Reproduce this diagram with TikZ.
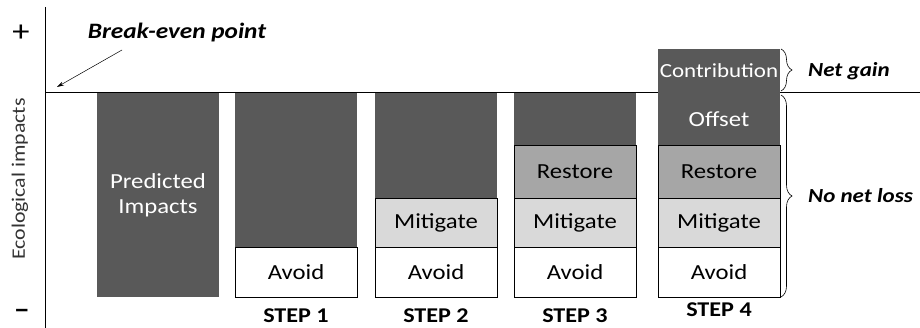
\documentclass[tikz,border=0pt]{standalone}
\usepackage{fontspec}
\setmainfont{Carlito}[FakeStretch=1.15]
\usetikzlibrary{positioning,decorations.pathreplacing,arrows.meta}
\definecolor{impactgray}{RGB}{89,89,89}
\definecolor{restoregray}{RGB}{166,166,166}
\definecolor{mitigategray}{RGB}{217,217,217}

\begin{document}
\begin{tikzpicture}[x=1pt, y=1pt, node distance=0pt,
  bar/.style = {minimum width=122pt, inner sep=0pt, outer sep=0pt, align=center, font=\fontsize{21.5}{25}\selectfont},
  impact/.style = {bar, fill=impactgray, text=white},
  framed/.style = {bar, draw=black, line width=0.8pt},
  avoidbox/.style = {framed, fill=white, minimum height=50pt},
  mitigatebox/.style = {framed, fill=mitigategray, minimum height=49pt},
  restorebox/.style = {framed, fill=restoregray, minimum height=53pt},
  steplabel/.style = {inner sep=0pt, font=\fontsize{21}{23}\selectfont\bfseries},
  outcome/.style = {anchor=west, inner sep=0pt, font=\fontsize{20}{22}\selectfont\bfseries\itshape},
  netbrace/.style = {decorate, decoration={brace, amplitude=11pt}, line width=0.6pt}]
\useasboundingbox (0,0) rectangle (920,328);

% axes
\coordinate (top) at (45,321);
\coordinate (bottom) at (45,0);
\coordinate (zero) at (45,235);
\coordinate (far) at (920,235);
\draw[line width=1pt] (top) -- (bottom);
\draw[line width=1pt] (zero) -- (far);
\node[font=\fontsize{30}{30}\selectfont] (plus) at (21,295) {+};
\node[inner sep=0pt, font=\fontsize{28}{28}\selectfont\bfseries] (minus) at (22,14) {--};
\node[rotate=90, text=black!80, font=\fontsize{19}{21}\selectfont] (ylabel) at (20,149) {Ecological impacts};

% break-even
\node[font=\fontsize{22}{24}\selectfont\bfseries\itshape] (breakeven) at (177,295) {Break-even point};
\coordinate (arrowtail) at (122,278);
\coordinate (evenpoint) at (57,241);
\draw[-{Stealth[length=7pt,width=4pt]}, line width=0.5pt] (arrowtail) -- (evenpoint);

% predicted
\node[impact, minimum height=204pt, anchor=south west] (pred) at (97,31) {Predicted\\Impacts};

% step 1
\node[avoidbox, anchor=south west] (avoid1) at (235,31) {Avoid};
\node[impact, minimum height=154pt, above=of avoid1] (rest1) {};
\node[steplabel, below=12pt of avoid1] (step1) {STEP 1};

% step 2
\node[avoidbox, anchor=south west] (avoid2) at (375,31) {Avoid};
\node[mitigatebox, above=of avoid2] (mitigate2) {Mitigate};
\node[impact, minimum height=105pt, above=of mitigate2] (rest2) {};
\node[steplabel, below=12pt of avoid2] (step2) {STEP 2};

% step 3
\node[avoidbox, anchor=south west] (avoid3) at (514,31) {Avoid};
\node[mitigatebox, above=of avoid3] (mitigate3) {Mitigate};
\node[restorebox, above=of mitigate3] (restore3) {Restore};
\node[impact, minimum height=52pt, above=of restore3] (rest3) {};
\node[steplabel, below=12pt of avoid3] (step3) {STEP 3};

% step 4
\node[avoidbox, anchor=south west] (avoid4) at (658,31) {Avoid};
\node[mitigatebox, above=of avoid4] (mitigate4) {Mitigate};
\node[restorebox, above=of mitigate4] (restore4) {Restore};
\node[impact, minimum height=52pt, above=of restore4] (offset4) {Offset};
\node[impact, minimum height=44pt, above=of offset4, font=\fontsize{20}{22}\selectfont] (contrib4) {Contribution};
\node[steplabel, below=6pt of avoid4] (step4) {STEP 4};

% outcomes
\draw[netbrace] ([xshift=1pt]contrib4.north east) -- ([xshift=1pt,yshift=2pt]contrib4.south east);
\draw[netbrace] ([xshift=1pt,yshift=-2pt]offset4.north east) -- ([xshift=1pt]avoid4.south east);
\node[outcome] (netgain) at (808,257) {Net gain};
\node[outcome] (nonetloss) at (808,132) {No net loss};
\end{tikzpicture}
\end{document}
